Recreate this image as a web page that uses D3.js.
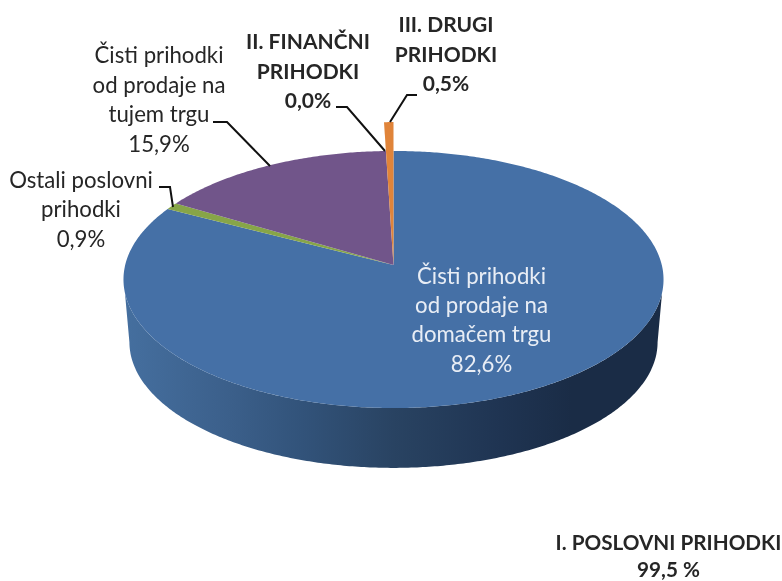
<!DOCTYPE html>
<html><head><meta charset="utf-8">
<script src="https://cdn.jsdelivr.net/npm/d3@7"></script>
<style>html,body{margin:0;background:#fff;overflow:hidden}svg{display:block;filter:blur(0.4px)}text{font-family:Lato,"Open Sans",sans-serif}</style>
</head><body><svg id="c" width="782" height="581"></svg>
<script>
const categories = ["Čisti prihodki od prodaje na domačem trgu","Ostali poslovni prihodki","Čisti prihodki od prodaje na tujem trgu","II. FINANČNI PRIHODKI","III. DRUGI PRIHODKI"];
const values = [82.6, 0.9, 15.9, 0.0, 0.5];
const valueLabels = ["82,6%","0,9%","15,9%","0,0%","0,5%"];
const colors = ["#4570a6","#87a548","#71558a","#b04a45","#e0843a"];
const radiusFactor = [1,1,1,1,1.29];
const totalLabel = ["I. POSLOVNI PRIHODKI","99,5 %"];

const X0=393.5,Y0=265,A=268.3,B=126.9,K=0.1128;
const BOTTOM_Y=328,BOTTOM_S=0.978;
const project=(a,r=1)=>{const u=r*Math.sin(a),v=r*Math.cos(a),w=1+K*v;return [X0+A*u/w,Y0-B*v/w];};
const projectBottom=a=>{const [x,y]=project(a);return [X0+(x-X0)*BOTTOM_S,BOTTOM_Y+(y-Y0)*BOTTOM_S];};
const deg=d=>d*Math.PI/180;
const svg=d3.select("#c");
const defs=svg.append("defs");
const grad=defs.append("linearGradient").attr("id","wall").attr("gradientUnits","userSpaceOnUse")
  .attr("x1",124).attr("x2",663).attr("y1",0).attr("y2",0);
[[0,"#456f9f"],[0.2,"#3b5f8a"],[0.33,"#32537a"],[0.5,"#294362"],[0.7,"#1f3452"],[0.83,"#1a2c46"],[1,"#1a2c46"]]
  .forEach(([o,c])=>grad.append("stop").attr("offset",o).attr("stop-color",c));

const pie=d3.pie().sort(null).value(d=>d);
const arcs=pie(values);
const line=d3.line();
const sampleAngles=(s,e)=>{const n=Math.max(2,Math.ceil(Math.abs(e-s)/0.01));return d3.range(n+1).map(i=>s+(e-s)*i/n);};
const arcPts=(s,e,r)=>sampleAngles(s,e).map(a=>project(a,r));

// side wall: near rim of the top face joined to the bottom ellipse
const wallPts=arcPts(deg(102.4),deg(257.6),1).concat(sampleAngles(deg(263.5),deg(96.5)).map(projectBottom));
svg.append("path").attr("d",line(wallPts)+"Z").attr("fill","url(#wall)");

// top faces
svg.append("g").selectAll("path").data(arcs).join("path")
  .attr("d",(d,i)=>line([[X0,Y0],...arcPts(d.startAngle,d.endAngle,radiusFactor[i])])+"Z")
  .attr("fill",(d,i)=>colors[i]);

// leader lines
const leaders=[
  [[173,207],[170,187],[159,187]],
  [[270,166],[227,122],[213,122]],
  [[385,151],[347,107],[336,107]],
  [[390,122],[407,95],[417,95]]
];
svg.append("g").selectAll("path").data(leaders).join("path")
  .attr("d",d=>line(d)).attr("fill","none").attr("stroke","#111").attr("stroke-width",2);

// labels
const labels=[
 {t:["Čisti prihodki","od prodaje na","domačem trgu",valueLabels[0]],x:481.5,y:[284,313,342,372],c:"#e8edf5",w:400},
 {t:["Ostali poslovni","prihodki",valueLabels[1]],x:81,y:[188,217,247],c:"#262626",w:400},
 {t:["Čisti prihodki","od prodaje na","tujem trgu",valueLabels[2]],x:159,y:[63,93,122,152],c:"#262626",w:400},
 {t:["II. FINANČNI","PRIHODKI",valueLabels[3]],x:308,y:[49,79,108],c:"#262626",w:700,s:21},
 {t:["III. DRUGI","PRIHODKI",valueLabels[4]],x:446,y:[32,62,91],c:"#262626",w:700,s:21},
 {t:totalLabel,x:668.5,y:[550,577],c:"#262626",w:700,s:20.7}
];
labels.forEach(l=>l.t.forEach((s,i)=>{
  svg.append("text").attr("x",l.x).attr("y",l.y[i]).attr("text-anchor","middle")
    .attr("font-size",l.s||22.2).attr("font-weight",l.w).attr("fill",l.c).text(s);
}));
</script></body></html>
